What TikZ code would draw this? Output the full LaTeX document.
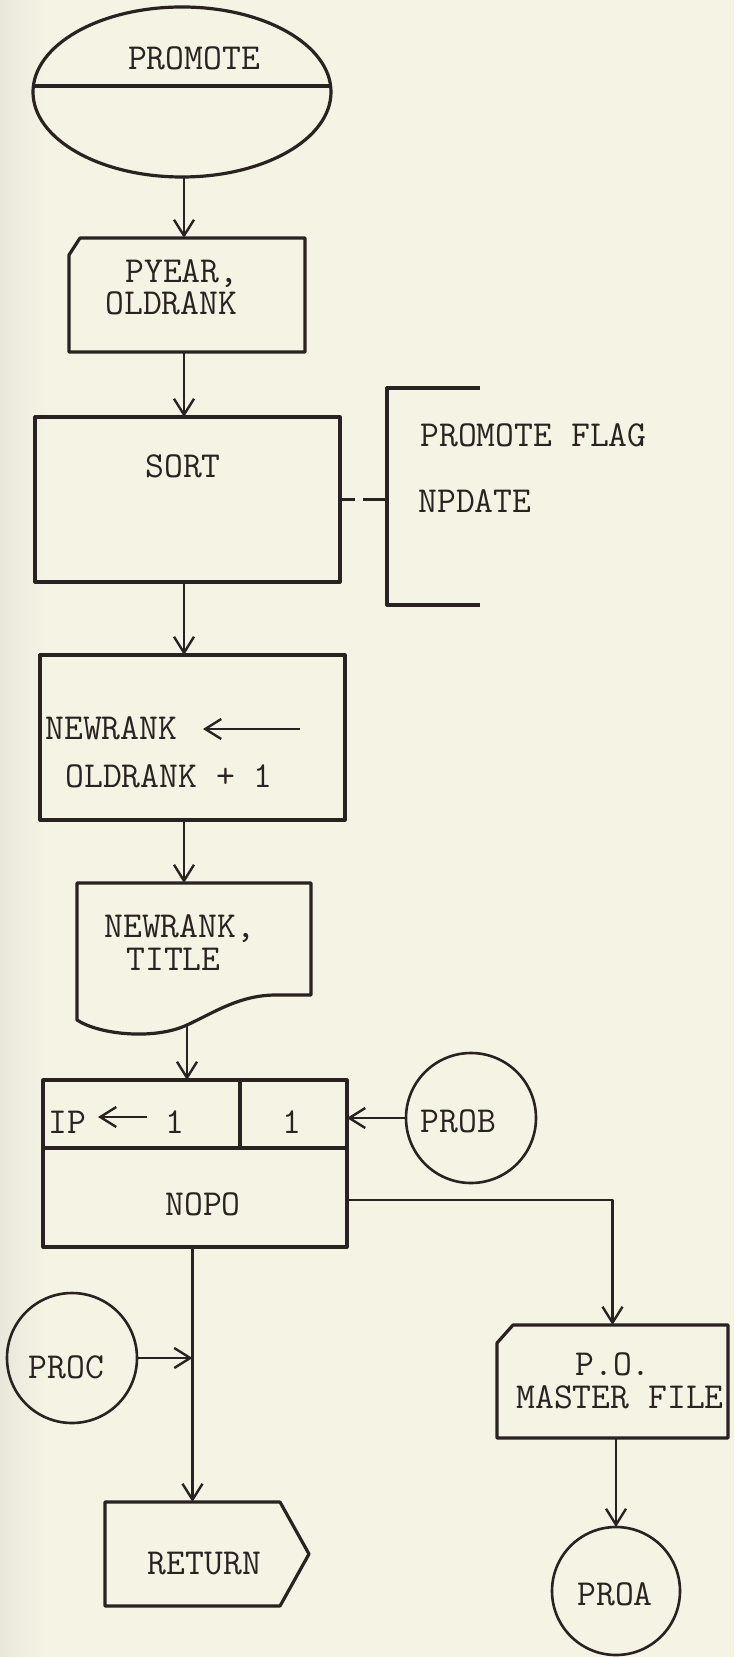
\documentclass[tikz,border=0pt]{standalone}
\usepackage{fontspec}
\usetikzlibrary{shapes.geometric,arrows.meta,calc}
\definecolor{paper}{HTML}{F5F3E4}
\definecolor{ink}{HTML}{2A2222}
\newcommand{\twfont}{\ttfamily\fontsize{18.3}{18.3}\selectfont\addfontfeatures{FakeBold=0.4}}
\begin{document}
\begin{tikzpicture}[x=0.5pt,y=-0.5pt, line join=round,
  box/.style={draw=ink, line width=1.6pt, inner sep=0pt, outer sep=0pt},
  shp/.style={inner sep=0pt, outer sep=0pt},
  ring/.style={draw=ink, circle, line width=1.3pt, inner sep=0pt, outer sep=0pt},
  txt/.style={font=\twfont, text=ink, inner sep=0pt, anchor=base},
  txtw/.style={txt, anchor=base west},
  arr/.style={draw=ink, line width=1.2pt, -{Straight Barb[length=8pt,width=10pt,line width=1.2pt]}},
  con/.style={draw=ink, line width=1.2pt},
]
\fill[paper] (0,0) rectangle (734,1657);
\shade[left color=paper!90!gray, right color=paper] (0,0) rectangle (45,1657);
\useasboundingbox (0,0) rectangle (734,1657);
\coordinate (tk) at (184,0);

% start ellipse
\node[box, ellipse, minimum width=149pt, minimum height=85pt] (ell) at (182,92) {};
\draw[box] ($(ell.center)+(-148.6,-6)$) -- ($(ell.center)+(148.6,-6)$);
\node[txt] (ellT) at (194,70) {PROMOTE};

% input card
\node[shp, minimum width=118pt, minimum height=57pt] (inp) at (187,295) {};
\draw[box] ($(inp.north west)+(11,0)$) -- (inp.north east) -- (inp.south east) -- (inp.south west) -- ($(inp.north west)+(0,17)$) -- cycle;
\node[txtw] (inpT1) at (125,283) {PYEAR,};
\node[txtw] (inpT2) at (105,315) {OLDRANK};
\draw[arr] (ell.south -| tk) -- (inp.north -| tk);

% sort
\node[box, minimum width=152.5pt, minimum height=82.5pt] (sort) at (187.5,499.5) {};
\node[txt] (sortT) at (183,478) {SORT};
\draw[arr] (inp.south -| tk) -- (sort.north -| tk);

% bracket annotation
\node[shp, minimum width=46.5pt, minimum height=108.5pt] (brk) at (433.5,496.5) {};
\draw[box] (brk.north east) -- (brk.north west) -- (brk.south west) -- (brk.south east);
\draw[con, line width=1.6pt, dash pattern=on 7.5pt off 4pt on 12pt off 0pt] (sort.east) -- (sort.east -| brk.west);
\node[txtw] (brkT1) at (420,447) {PROMOTE FLAG};
\node[txtw] (brkT2) at (418,513) {NPDATE};

% assignment
\node[box, minimum width=152.5pt, minimum height=82.5pt] (asg) at (192.5,737.5) {};
\draw[arr] (sort.south -| tk) -- (asg.north -| tk);
\node[txtw] (asgT1) at (45,739) {NEWRANK};
\coordinate (a1s) at (300,729);
\coordinate (a1e) at (203,729);
\draw[arr] (a1s) -- (a1e);
\node[txtw] (asgT2) at (65,787) {OLDRANK + 1};

% document
\node[shp, minimum width=117pt, minimum height=68.5pt] (out) at (194,951.5) {};
\coordinate (outB) at (187,1025);
\draw[box] (out.south west) -- (out.north west) -- (out.north east) -- (311,995) -- (276,995)
  .. controls (240,995) and (215,1012) .. (outB)
  .. controls (155,1040) and (100,1035) .. (out.south west) -- cycle;
\node[txtw] (outT1) at (104,937) {NEWRANK,};
\node[txtw] (outT2) at (126,970) {TITLE};
\draw[arr] (asg.south -| tk) -- (out.north -| tk);

% loop / init box
\node[box, minimum width=152pt, minimum height=83.5pt] (ini) at (195,1163.5) {};
\draw[box] (ini.west |- 0,1148) -- (ini.east |- 0,1148);
\draw[box] (ini.north -| 240,0) -- (240,1148);
\draw[arr] (outB) -- (outB |- ini.north);
\node[txtw] (iniT1) at (48,1133) {IP};
\coordinate (a2s) at (147,1117);
\coordinate (a2e) at (98,1117);
\draw[arr] (a2s) -- (a2e);
\node[txt] (iniT2) at (175,1133) {1};
\node[txt] (iniT3) at (292,1133) {1};
\node[txt] (iniT4) at (203,1215) {NOPO};

% PROB connector
\node[ring, minimum size=65pt] (prob) at (471,1118) {};
\node[txt] (probT) at (458.5,1132) {PROB};
\draw[arr] (prob.west) -- (prob.west -| ini.east);

% P.O. master file
\node[shp, minimum width=115.5pt, minimum height=56.5pt] (po) at (612.5,1381.5) {};
\draw[box] ($(po.north west)+(16,0)$) -- (po.north east) -- (po.south east) -- (po.south west) -- ($(po.north west)+(0,18)$) -- cycle;
\node[txt] (poT1) at (613,1375) {P.O.};
\node[txtw] (poT2) at (516,1408) {MASTER FILE};
\path (po.north |- 0,1200) coordinate (poc);
\draw[arr] (ini.east |- poc) -- (poc) -- (po.north);

% PROA
\node[ring, minimum size=64pt] (proa) at (616,1591) {};
\node[txt] (proaT) at (615,1605) {PROA};
\draw[arr] (proa.north |- po.south) -- (proa.north);

% RETURN
\node[shp, minimum width=87.5pt, minimum height=52pt] (ret) at (192.5,1554) {};
\draw[box] (ret.north west) -- (ret.north east) -- ($(ret.east)+(29,0)$) -- (ret.south east) -- (ret.south west) -- cycle;
\node[txt] (retT) at (204.5,1574) {RETURN};
\draw[arr] (ini.south -| ret.north) -- (ret.north);

% PROC
\node[ring, minimum size=65pt] (proc) at (72,1358) {};
\node[txt] (procT) at (66.5,1378) {PROC};
\draw[arr] (proc.east) -- (proc.east -| ret.north);
\end{tikzpicture}
\end{document}
